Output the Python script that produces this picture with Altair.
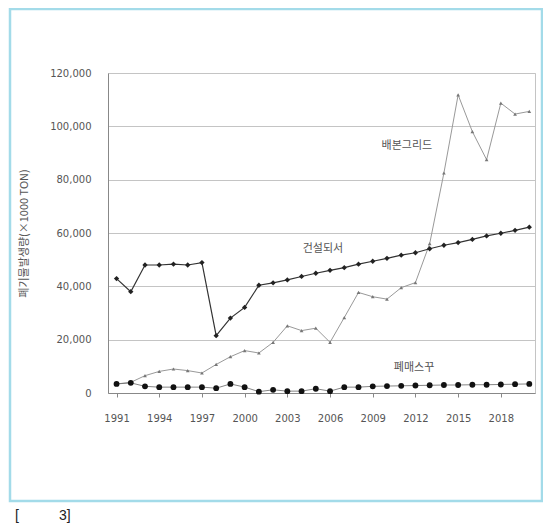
import altair as alt
import pandas as pd

years = list(range(1991, 2021))
construction = [42900, 38000, 48000, 48000, 48300, 48000, 48900, 21500, 28100, 32100,
                40400, 41300, 42400, 43700, 44900, 46000, 47000, 48300, 49400, 50500,
                51700, 52600, 54100, 55400, 56400, 57600, 58900, 59900, 61000, 62200]
grid = [3400, 4000, 6500, 8100, 9000, 8400, 7500, 10700, 13600, 15900,
        15000, 19000, 25200, 23400, 24300, 19000, 28300, 37700, 36100, 35200,
        39500, 41400, 56000, 82500, 111800, 98000, 87500, 108700, 104600, 105600]
small = [3400, 3800, 2500, 2200, 2200, 2200, 2200, 1800, 3400, 2200,
         500, 1200, 700, 700, 1600, 700, 2200, 2200, 2500, 2600,
         2700, 2800, 2900, 3000, 3000, 3100, 3100, 3200, 3300, 3400]

x_ticks = [1991, 1994, 1997, 2000, 2003, 2006, 2009, 2012, 2015, 2018]
y_ticks = [0, 20000, 40000, 60000, 80000, 100000, 120000]

ann_text = ["배본그리드", "건설되서", "폐매스꾸"]
ann_year = [2011.4, 2005.5, 2011.9]
ann_val = [92500, 54000, 9200]

y_title = "폐기물발생량(×1000 TON)"
caption_parts = ["[", "3]"]

df = pd.DataFrame({"year": years, "construction": construction, "grid": grid, "small": small})
ann = pd.DataFrame({"text": ann_text, "year": ann_year, "val": ann_val})
one = pd.DataFrame({"k": [0]})

xs = alt.Scale(domain=[1990.4, 2020.4], nice=False, zero=False)
ys = alt.Scale(domain=[0, 120000], nice=False)

x_axis = alt.Axis(values=x_ticks, format="d", grid=False, tickSize=4, tickColor="#888",
                  labelPadding=16, labelFontSize=10, labelColor="#555", domainColor="#888",
                  labelFont="DejaVu Sans", title=None)
y_axis = alt.Axis(values=y_ticks, format=",.0f", grid=True, gridColor="#c4c4c4", tickSize=0,
                  labelPadding=17, labelFontSize=10, labelColor="#555", domainColor="#888",
                  labelFont="DejaVu Sans", title=y_title, titleFont="Noto Sans CJK KR",
                  titleFontSize=11, titleFontWeight="normal", titleColor="#555", titlePadding=20)

base = alt.Chart(df)

axes = base.mark_line(opacity=0).encode(
    x=alt.X("year:Q", scale=xs, axis=x_axis),
    y=alt.Y("construction:Q", scale=ys, axis=y_axis),
)

a_line = base.mark_line(color="#333", strokeWidth=1.2).encode(
    x=alt.X("year:Q", scale=xs), y=alt.Y("construction:Q", scale=ys))
a_pts = base.mark_point(shape="diamond", filled=True, color="#222", size=28, opacity=1).encode(
    x=alt.X("year:Q", scale=xs), y=alt.Y("construction:Q", scale=ys))

b_line = base.mark_line(color="#999", strokeWidth=1).encode(
    x=alt.X("year:Q", scale=xs), y=alt.Y("grid:Q", scale=ys))
b_pts = base.mark_point(shape="triangle-up", filled=True, color="#777", size=14, opacity=1).encode(
    x=alt.X("year:Q", scale=xs), y=alt.Y("grid:Q", scale=ys))

c_line = base.mark_line(color="#666", strokeWidth=0.8).encode(
    x=alt.X("year:Q", scale=xs), y=alt.Y("small:Q", scale=ys))
c_pts = base.mark_point(shape="circle", filled=True, color="#111", size=34, opacity=1).encode(
    x=alt.X("year:Q", scale=xs), y=alt.Y("small:Q", scale=ys))

labels = alt.Chart(ann).mark_text(font="Noto Sans CJK KR", fontSize=11, color="#555").encode(
    x=alt.X("year:Q", scale=xs), y=alt.Y("val:Q", scale=ys), text="text:N")

frame = alt.Chart(one).mark_rect(fill=None, stroke="#a3dbe9", strokeWidth=2.5).encode(
    x=alt.value(-98), x2=alt.value(434), y=alt.value(-64), y2=alt.value(428))

cap1 = alt.Chart(one).mark_text(text=caption_parts[0], align="left", baseline="alphabetic", fontSize=14,
                                font="Liberation Sans", fontWeight="normal", color="#222").encode(
    x=alt.value(-93), y=alt.value(447))
cap2 = alt.Chart(one).mark_text(text=caption_parts[1], align="left", baseline="alphabetic", fontSize=14,
                                font="Liberation Sans", fontWeight="normal", color="#222").encode(
    x=alt.value(-49), y=alt.value(447))

chart = alt.layer(frame, axes, b_line, b_pts, a_line, a_pts, c_line, c_pts, labels, cap1, cap2).properties(
    width=427, height=320,
    autosize=alt.AutoSizeParams(type="none"),
    padding={"left": 100, "top": 65, "right": 8, "bottom": 131},
).configure_view(stroke="#c4c4c4", strokeWidth=1)

chart.save("out.html", embed_options={"renderer": "svg", "actions": False})
